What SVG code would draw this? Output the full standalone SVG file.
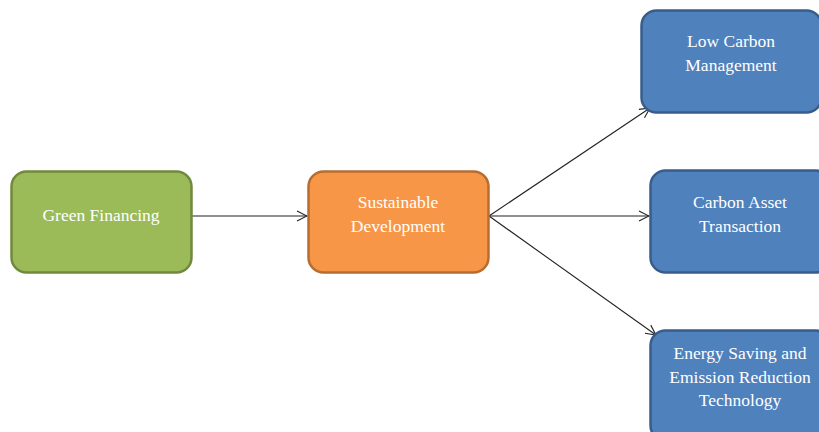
<svg xmlns="http://www.w3.org/2000/svg" width="819" height="432" viewBox="0 0 819 432">
<style>
.box{stroke-width:2.5}
.green{fill:#9BBB59;stroke:#71893F}
.orange{fill:#F79646;stroke:#B66D31}
.blue{fill:#4F81BD;stroke:#385D8A}
.lbl{font-family:"Liberation Serif","Times New Roman",serif;font-size:17.5px;fill:#FFFFFF;text-anchor:middle}
.conn{stroke:#222;stroke-width:1.1;fill:none}
</style>
<defs>
<marker id="arr" markerWidth="12" markerHeight="12" refX="11" refY="6" orient="auto" markerUnits="userSpaceOnUse">
<polyline points="1,1 11,6 1,11" fill="none" stroke="#222" stroke-width="1.1"/>
</marker>
</defs>
<rect width="819" height="432" fill="#FFFFFF"/>
<g id="connectors">
<line class="conn" x1="192" y1="216" x2="307" y2="216" marker-end="url(#arr)"/>
<line class="conn" x1="489" y1="216" x2="650" y2="108" marker-end="url(#arr)"/>
<line class="conn" x1="489" y1="216" x2="649" y2="216" marker-end="url(#arr)"/>
<line class="conn" x1="489" y1="216" x2="656" y2="335" marker-end="url(#arr)"/>
</g>
<g id="green-financing">
<rect class="box green" x="11.5" y="171.5" width="180" height="101" rx="15"/>
<text class="lbl" x="101" y="221">Green Financing</text>
</g>
<g id="sustainable-development">
<rect class="box orange" x="308.5" y="171.5" width="180" height="101" rx="15"/>
<text class="lbl" x="398" y="208">Sustainable</text>
<text class="lbl" x="398" y="232">Development</text>
</g>
<g id="low-carbon-management">
<rect class="box blue" x="641.5" y="10.5" width="180" height="102" rx="15"/>
<text class="lbl" x="731" y="47">Low Carbon</text>
<text class="lbl" x="731" y="71">Management</text>
</g>
<g id="carbon-asset-transaction">
<rect class="box blue" x="650.5" y="170.5" width="180" height="102" rx="15"/>
<text class="lbl" x="740" y="208">Carbon Asset</text>
<text class="lbl" x="740" y="232">Transaction</text>
</g>
<g id="energy-saving">
<rect class="box blue" x="650.5" y="330.5" width="180" height="110" rx="15"/>
<text class="lbl" x="740" y="359">Energy Saving and</text>
<text class="lbl" x="740" y="383">Emission Reduction</text>
<text class="lbl" x="740" y="406">Technology</text>
</g>
</svg>
